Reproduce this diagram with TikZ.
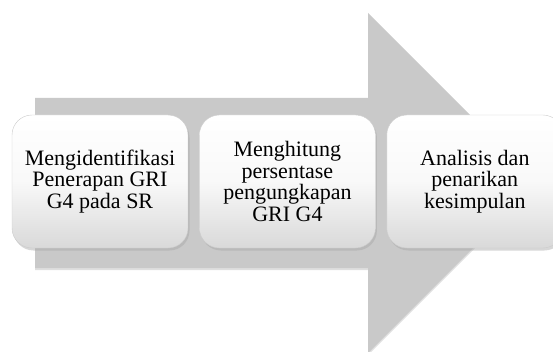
\documentclass[tikz,border=0pt]{standalone}
\usepackage{fontspec}
\setmainfont{Liberation Serif}
\usepackage{tikz}
\usetikzlibrary{positioning,shadows}

\begin{document}
\begin{tikzpicture}[x=1pt, y=1pt,
    stepbox/.style={rectangle, rounded corners=20pt, minimum width=176pt,
                    minimum height=133pt, align=center, inner sep=2pt,
                    draw=gray!40, top color=white, bottom color=gray!30,
                    middle color=gray!5,
                    drop shadow={shadow xshift=1.5pt, shadow yshift=-2.5pt,
                                 opacity=0.45, fill=gray!70},
                    font=\fontsize{22}{21.7}\selectfont},
    bigarrow/.style={fill=gray!42,
                     drop shadow={shadow xshift=0pt, shadow yshift=-2pt,
                                  opacity=0.25}},
    node distance=11pt
]
\useasboundingbox (0,0) rectangle (553,351);
\clip (0,0) rectangle (553,351);

% background arrow
\fill[bigarrow] (35,253) -- (368,253) -- (368,338) -- (538,168)
    -- (368,-2) -- (368,83) -- (35,83) -- cycle;

% steps
\node[stepbox] (identify) at (100,169.5) {Mengidentifikasi\\Penerapan GRI\\G4 pada SR};
\node[stepbox, right=of identify] (count) {Menghitung\\persentase\\pengungkapan\\GRI G4};
\node[stepbox, right=of count] (analyse) {Analisis dan\\penarikan\\kesimpulan};
\end{tikzpicture}
\end{document}
